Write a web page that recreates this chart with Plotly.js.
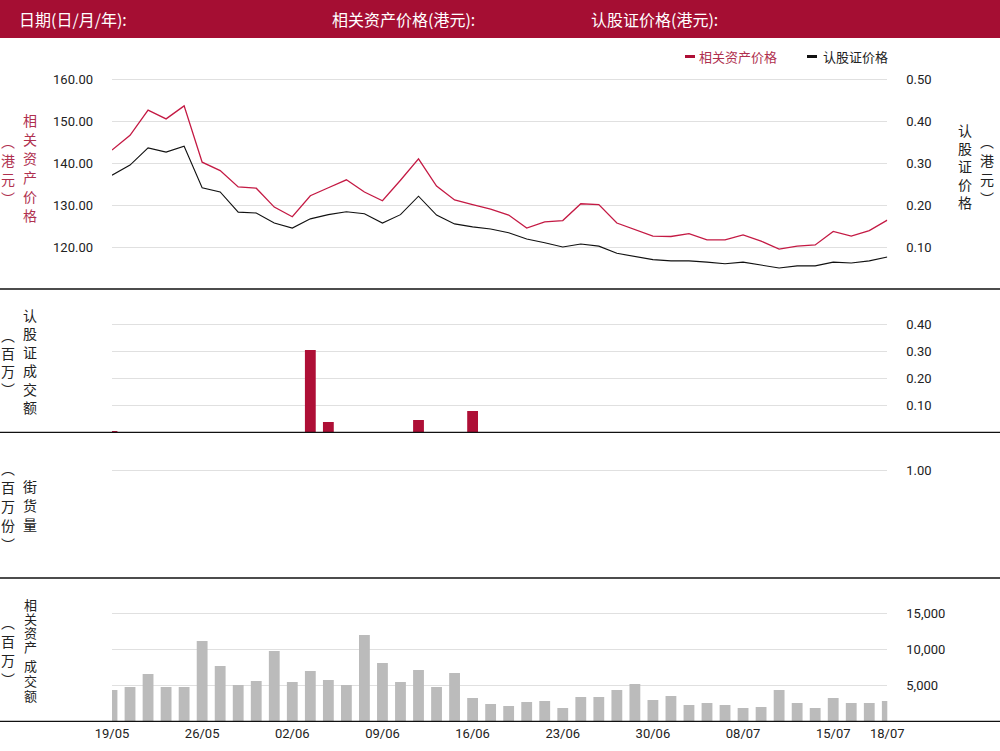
<!DOCTYPE html>
<html>
<head>
<meta charset="utf-8">
<script src="https://cdn.plot.ly/plotly-3.0.1.min.js"></script>
<style>html,body{margin:0;padding:0;background:#fff;}#chart{width:1000px;height:751px;}</style>
</head>
<body>
<div id="chart"></div>
<script>
// ---- data ----
const dates = ['19/05','20/05','21/05','22/05','23/05','26/05','27/05','28/05','29/05','30/05',
  '02/06','03/06','04/06','05/06','06/06','09/06','10/06','11/06','12/06','13/06',
  '16/06','17/06','18/06','19/06','20/06','23/06','24/06','25/06','26/06','27/06',
  '30/06','02/07','03/07','04/07','07/07','08/07','09/07','10/07','11/07','14/07',
  '15/07','16/07','17/07','18/07'];
const tickDates = ['19/05','26/05','02/06','09/06','16/06','23/06','30/06','08/07','15/07','18/07'];
const underlyingPrice = [143.1,146.6,152.6,150.5,153.6,140.2,138.2,134.3,134.0,129.5,
  127.2,132.2,134.1,136.0,133.1,131.0,135.9,141.0,134.5,131.2,
  130.1,129.0,127.6,124.5,126.0,126.3,130.3,130.1,125.7,124.2,
  122.6,122.5,123.2,121.7,121.7,122.9,121.4,119.5,120.2,120.5,
  123.7,122.6,123.9,126.4];
const warrantPrice = [0.271,0.295,0.336,0.326,0.340,0.241,0.231,0.183,0.181,0.157,
  0.145,0.167,0.177,0.184,0.179,0.157,0.177,0.221,0.176,0.155,
  0.148,0.143,0.134,0.119,0.110,0.100,0.107,0.102,0.085,0.078,
  0.070,0.067,0.067,0.064,0.060,0.064,0.057,0.050,0.055,0.055,
  0.064,0.062,0.067,0.076];
const warrantTurnover = [0.005,0,0,0,0,0,0,0,0,0,
  0,0.305,0.038,0,0,0,0,0.046,0,0,
  0.079,0,0,0,0,0,0,0,0,0,
  0,0,0,0,0,0,0,0,0,0,
  0,0,0,0];
const outstandingQty = [0,0,0,0,0,0,0,0,0,0,
  0,0,0,0,0,0,0,0,0,0,
  0,0,0,0,0,0,0,0,0,0,
  0,0,0,0,0,0,0,0,0,0,
  0,0,0,0];
const underlyingTurnover = [4350,4770,6570,4770,4770,11160,7690,5050,5600,9770,
  5460,6990,5740,5050,11990,8100,5460,7130,4770,6710,
  3240,2410,2130,2690,2820,1850,3380,3380,4350,5190,
  2960,3520,2270,2550,2270,1850,1990,4350,2550,1850,
  3240,2550,2550,2820];

const RED_LINE = '#c41a44';
const RED_BAR = '#ae0f36';
const HEADER = '#a50e33';
const LABEL_RED = '#b0304f';
const FONT = 'Roboto, "Noto Sans CJK SC", sans-serif';
const CJK = '"Noto Sans CJK SC", sans-serif';

const W = 1000, H = 751;
const px = p => p / W;
const py = p => 1 - p / H;

const traces = [
  {type:'scatter', mode:'lines', x:dates, y:underlyingPrice, xaxis:'x', yaxis:'y',
   line:{color:RED_LINE, width:1.3}, name:'相关资产价格'},
  {type:'scatter', mode:'lines', x:dates, y:warrantPrice, xaxis:'x', yaxis:'y5',
   line:{color:'#111', width:1.1}, name:'认股证价格'},
  {type:'bar', x:dates, y:warrantTurnover, xaxis:'x', yaxis:'y2',
   marker:{color:RED_BAR}, cliponaxis:false, name:'认股证成交额'},
  {type:'bar', x:dates, y:outstandingQty, xaxis:'x', yaxis:'y3',
   marker:{color:RED_BAR}, cliponaxis:false, name:'街货量'},
  {type:'bar', x:dates, y:underlyingTurnover, xaxis:'x', yaxis:'y4',
   marker:{color:'#bbbbbb'}, cliponaxis:false, name:'相关资产成交额'}
];

const tickFont = {family:FONT, size:13, color:'#222'};
const yBase = {showgrid:true, gridcolor:'#e0e0e0', gridwidth:1, zeroline:false, showline:false,
  ticks:'', tickfont:tickFont, ticklabelstandoff:18, fixedrange:true};

const annotations = [];
function vlabel(chars, x, ys, color, size){
  chars.forEach((c,i)=>{
    annotations.push({xref:'paper', yref:'paper', x:px(x), y:py(ys[i]), text:c, showarrow:false,
      xanchor:'center', yanchor:'middle', borderpad:0, font:{family:CJK, size:size||14, color:color}});
  });
}
function seq(start, step, n){ const a=[]; for(let i=0;i<n;i++) a.push(start+i*step); return a; }

// header texts
[['日期(日/月/年):',20],['相关资产价格(港元):',333],['认股证价格(港元):',592]].forEach(([t,x])=>{
  annotations.push({xref:'paper', yref:'paper', x:px(x-3), y:py(19), text:t, showarrow:false,
    xanchor:'left', yanchor:'middle', font:{family:CJK, size:16, color:'#fff'}});
});
// legend
annotations.push({xref:'paper', yref:'paper', x:px(697), y:py(56), text:'相关资产价格', showarrow:false,
  xanchor:'left', yanchor:'middle', font:{family:CJK, size:13, color:LABEL_RED}});
annotations.push({xref:'paper', yref:'paper', x:px(821), y:py(56), text:'认股证价格', showarrow:false,
  xanchor:'left', yanchor:'middle', font:{family:CJK, size:13, color:'#222'}});

// axis titles (vertical)
vlabel(['相','关','资','产','价','格'], 30, seq(120,19,6), LABEL_RED);
vlabel(['︵','港','元','︶'], 8, seq(141,19,4), LABEL_RED);
vlabel(['认','股','证','价','格'], 965, seq(130,18,5), '#222');
vlabel(['︵','港','元','︶'], 987, seq(141,19,4), '#222');
vlabel(['认','股','证','成','交','额'], 30, seq(315,18.4,6), '#222');
vlabel(['︵','百','万','︶'], 8, seq(335,18,4), '#222');
vlabel(['街','货','量'], 30, seq(486,19,3), '#222');
vlabel(['︵','百','万','份','︶'], 8, seq(468,19,5), '#222');
vlabel(['相','关','资','产','成','交','额'], 30, [604,618,632,646,665,680,695], '#222', 13);
vlabel(['︵','百','万','︶'], 8, seq(622,19,4), '#222');

const shapes = [
  {type:'rect', xref:'paper', yref:'paper', x0:0, x1:1, y0:py(38), y1:1, fillcolor:HEADER, line:{width:0}, layer:'below'},
  {type:'rect', xref:'paper', yref:'paper', x0:px(685), x1:px(695), y0:py(58), y1:py(55), fillcolor:RED_BAR, line:{width:0}},
  {type:'rect', xref:'paper', yref:'paper', x0:px(807), x1:px(817), y0:py(58), y1:py(55), fillcolor:'#111', line:{width:0}}
];
[289, 432.3, 578, 721.3].forEach(y=>{
  shapes.push({type:'line', xref:'paper', yref:'paper', x0:0, x1:1, y0:py(y), y1:py(y), line:{color:'#111', width:1.3}});
});

const layout = {
  width:W, height:H, autosize:false,
  margin:{l:0, r:0, t:0, b:0, pad:0},
  paper_bgcolor:'#fff', plot_bgcolor:'rgba(0,0,0,0)',
  showlegend:false, bargap:0.4,
  font:{family:FONT, color:'#222'},
  xaxis:{domain:[px(112), px(887.3)], anchor:'y4', type:'category', range:[0,43],
    tickmode:'array', tickvals:tickDates, ticktext:tickDates, ticks:'', showgrid:false,
    zeroline:false, showline:false, tickfont:tickFont, fixedrange:true, ticklabelstandoff:3},
  yaxis:Object.assign({}, yBase, {domain:[py(289), py(58)], anchor:'x', side:'left', range:[110,165],
    tickmode:'array', tickvals:[120,130,140,150,160], tickformat:'.2f'}),
  yaxis5:Object.assign({}, yBase, {overlaying:'y', anchor:'x', side:'right', range:[0,0.55], showgrid:false,
    tickmode:'array', tickvals:[0.1,0.2,0.3,0.4,0.5], tickformat:'.2f'}),
  yaxis2:Object.assign({}, yBase, {domain:[py(432.3), py(297.3)], anchor:'x', side:'right', range:[0,0.5],
    tickmode:'array', tickvals:[0.1,0.2,0.3,0.4], tickformat:'.2f'}),
  yaxis3:Object.assign({}, yBase, {domain:[py(578), py(443)], anchor:'x', side:'right', range:[0,1.25],
    tickmode:'array', tickvals:[1], tickformat:'.2f'}),
  yaxis4:Object.assign({}, yBase, {domain:[py(721.3), py(586.3)], anchor:'x', side:'right', range:[0,18750],
    tickmode:'array', tickvals:[5000,10000,15000], tickformat:',d'}),
  shapes:shapes,
  annotations:annotations
};

Plotly.newPlot('chart', traces, layout, {staticPlot:true, displayModeBar:false});
</script>
</body>
</html>
